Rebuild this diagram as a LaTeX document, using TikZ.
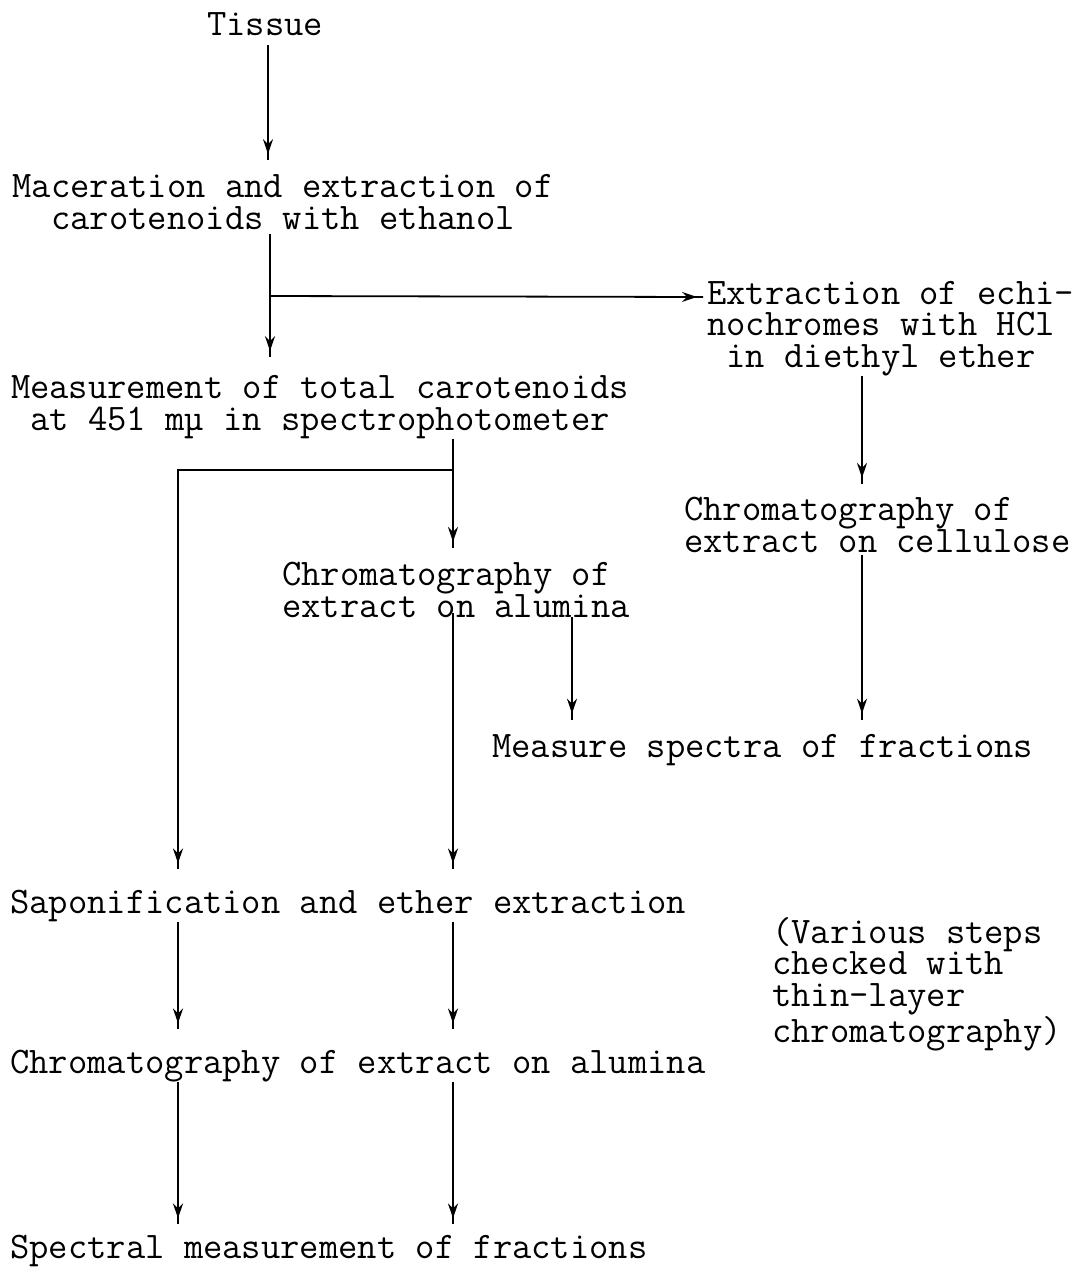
\documentclass[tikz,border=0pt]{standalone}
\usepackage{fontspec}
\usepackage{tikz}
\usetikzlibrary{calc}
\usetikzlibrary{arrows.meta}
\usetikzlibrary{decorations.markings}

\tikzset{
  txt/.style={font=\ttfamily\fontsize{37.5}{31.5}\selectfont, inner sep=0pt},
  flow/.style={line width=1.8pt, decoration={
      markings,
      mark=at position -6pt with {\arrow{Stealth[length=15pt,width=10pt,inset=5pt]}}},
    postaction={decorate}}
}

\begin{document}
\begin{tikzpicture}[x=1pt, y=-1pt]
        \useasboundingbox (0,0) rectangle (1081,1270);
        \coordinate (c0) at (268,0);
        \coordinate (cm) at (270,0);
        \coordinate (c1) at (178,0);
        \coordinate (c2) at (453,0);
        \coordinate (c3) at (572,0);
        \coordinate (c4) at (862,0);

        \node[txt, anchor=base] (tissue) at (265,35) {Tissue};
        \node[txt, align=center, anchor=base] (mac) at (283,229) {Maceration and extraction of\\carotenoids with ethanol};
        \node[txt, align=center, anchor=base] (meas) at (320,430) {Measurement of total carotenoids\\at 451 mµ in spectrophotometer};
        \node[txt, align=left, anchor=base west] (echi) at (707,367) {Extraction of echi-\\nochromes with HCl\\\phantom{x}in diethyl ether};
        \node[txt, align=left, anchor=base west] (cell) at (684,552) {Chromatography of\\extract on cellulose};
        \node[txt, align=left, anchor=base west] (alum) at (282,617) {Chromatography of\\extract on alumina};
        \node[txt, anchor=base west] (spec) at (492,757) {Measure spectra of fractions};
        \node[txt, anchor=base west] (sapon) at (10,913) {Saponification and ether extraction};
        \node[txt, align=left, anchor=base west] (note) at (772,1042) {(Various steps\\checked with\\thin-layer\\chromatography)};
        \node[txt, anchor=base west] (chrom) at (10,1073) {Chromatography of extract on alumina};
        \node[txt, anchor=base west] (final) at (10,1258) {Spectral measurement of fractions};

        \coordinate (j1) at (cm |- 0,296);
        \coordinate (j2) at (c2 |- 0,470);

        \draw[flow] ($(tissue.south -| c0)+(0,10)$) -- ($(mac.north -| c0)+(0,-14)$);
        \draw[flow] ($(mac.south -| cm)+(0,5)$) -- ($(meas.north -| cm)+(0,-18)$);
        \draw[flow] (j1) -- ($(echi.west |- j1)+(-4,1)$);
        \draw[flow] (meas.south -| c2) -- ($(alum.north -| c2)+(0,-14)$);
        \draw[flow] (j2) -| ($(sapon.north -| c1)+(0,-20)$);
        \draw[flow] (echi.south -| c4) -- ($(cell.north -| c4)+(0,-13)$);
        \draw[flow] ($(alum.south -| c2)+(0,-4)$) -- ($(sapon.north -| c2)+(0,-20)$);
        \draw[flow] (alum.south -| c3) -- ($(spec.north -| c3)+(0,-14)$);
        \draw[flow] ($(cell.south -| c4)+(0,3)$) -- ($(spec.north -| c4)+(0,-14)$);
        \draw[flow] (sapon.south -| c1) -- ($(chrom.north -| c1)+(0,-20)$);
        \draw[flow] (sapon.south -| c2) -- ($(chrom.north -| c2)+(0,-20)$);
        \draw[flow] (chrom.south -| c1) -- ($(final.north -| c1)+(0,-10)$);
        \draw[flow] (chrom.south -| c2) -- ($(final.north -| c2)+(0,-10)$);
      \end{tikzpicture}
\end{document}
